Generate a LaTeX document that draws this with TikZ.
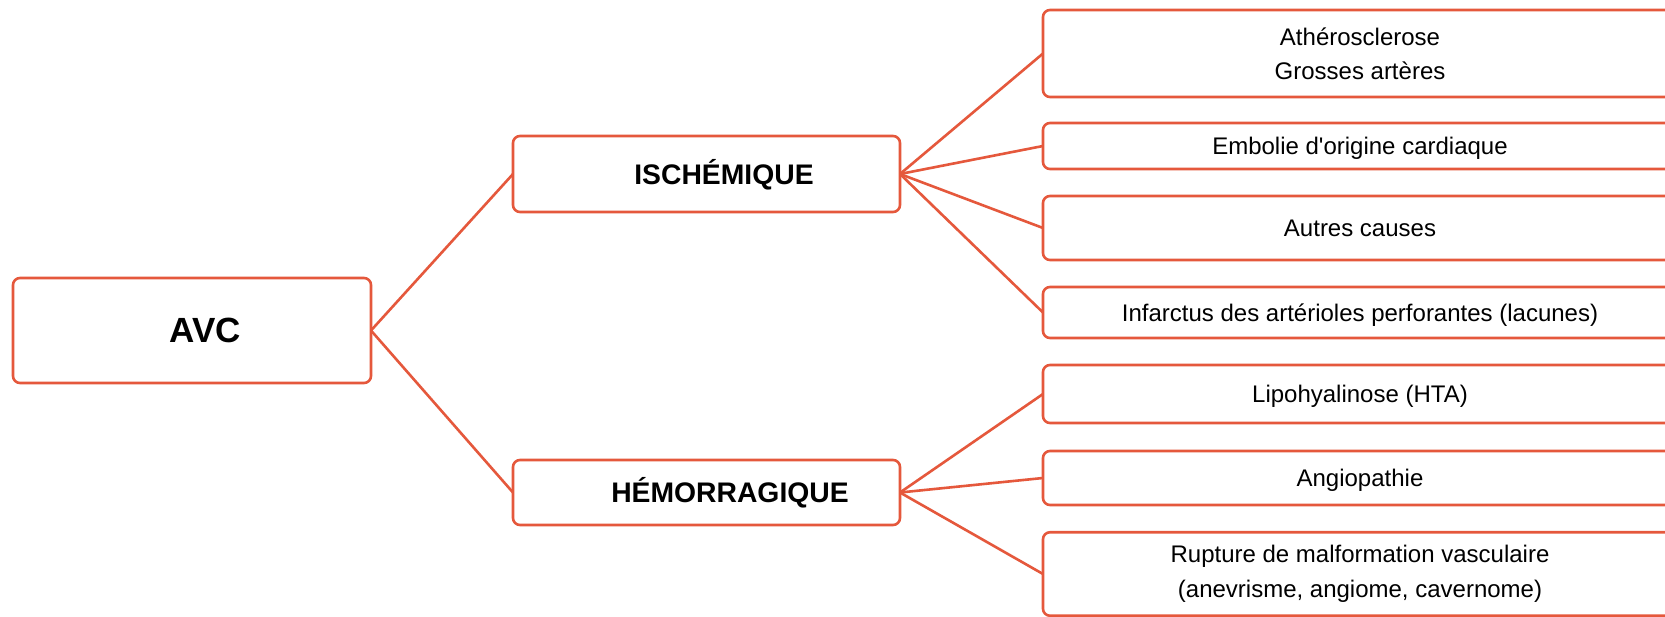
\documentclass[tikz,border=0pt]{standalone}
\usepackage{fontspec}
\setmainfont{Liberation Sans}[Ligatures=TeXOff]
\definecolor{edge}{RGB}{229,88,60}
\begin{document}
\begin{tikzpicture}[x=1pt,y=-1pt,
  box/.style={draw=edge, line width=2.6pt, rounded corners=7pt, inner sep=0pt, outer sep=0pt, fill=white, align=center},
  mainbox/.style={box, font=\bfseries\fontsize{35}{40}\selectfont, text height=25pt, text depth=0pt},
  typebox/.style={box, font=\bfseries\fontsize{28.3}{32}\selectfont, text height=20.3pt, text depth=0pt, minimum width=387pt},
  causebox/.style={box, font=\fontsize{24}{34}\selectfont, minimum width=634pt},
  oneline/.style={text height=17.2pt, text depth=0pt},
  link/.style={draw=edge, line width=2.6pt}]
\useasboundingbox (0,0) rectangle (1665,617);
\clip (0,0) rectangle (1665,617);
\fill[white] (0,0) rectangle (1665,617);

\node[mainbox, minimum width=358pt, minimum height=105pt] (avc) at (192,330.5) {\hspace*{26pt}AVC};
\node[typebox, minimum height=76pt] (isch) at (706.5,174) {\hspace*{35pt}ISCHÉMIQUE};
\node[typebox, minimum height=65pt] (hemo) at (706.5,492.5) {\hspace*{47pt}HÉMORRAGIQUE};

\node[causebox, minimum height=87pt] (c1) at (1360,53.5) {Athérosclerose\\Grosses artères};
\node[causebox, oneline, minimum height=46pt] (c2) at (1360,146) {Embolie d'origine cardiaque};
\node[causebox, oneline, minimum height=64pt] (c3) at (1360,228) {Autres causes};
\node[causebox, oneline, minimum height=51pt] (c4) at (1360,312.5) {Infarctus des artérioles perforantes (lacunes)};
\node[causebox, oneline, minimum height=58pt] (c5) at (1360,394) {Lipohyalinose (HTA)};
\node[causebox, oneline, minimum height=54pt] (c6) at (1360,478) {Angiopathie};
\node[causebox, minimum height=83.5pt, font=\fontsize{24}{35}\selectfont] (c7) at (1360,574) {Rupture de malformation vasculaire\\(anevrisme, angiome, cavernome)};

\draw[link] (avc.east) -- (isch.west);
\draw[link] (avc.east) -- (hemo.west);
\foreach \c in {c1,c2,c3,c4} \draw[link] (isch.east) -- (\c.west);
\foreach \c in {c5,c6,c7} \draw[link] (hemo.east) -- (\c.west);
\end{tikzpicture}
\end{document}
